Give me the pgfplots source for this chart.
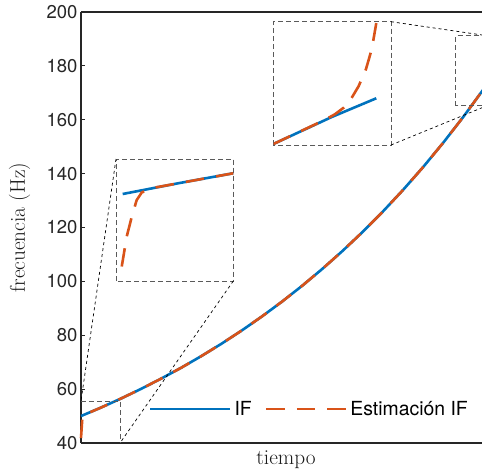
\documentclass[border=0pt]{standalone}
\usepackage{fontspec}
\usepackage{pgfplots}
\pgfplotsset{compat=1.18}
\usetikzlibrary{calc}
\newfontfamily\helv{TeX Gyre Heros}
\newcommand\ticfont{\helv\fontsize{18.5}{22}\selectfont}
\newcommand\legfont{\helv\fontsize{19.4}{23}\selectfont}
\newcommand\labfont{\fontsize{21.3}{25}\selectfont}
\definecolor{ifblue}{RGB}{0,114,189}
\definecolor{iforange}{RGB}{217,83,25}
\definecolor{axisgray}{RGB}{38,38,38}
\definecolor{boxgray}{RGB}{90,90,90}
\tikzset{
  boxst/.style={boxgray, line width=0.9pt, dash pattern=on 5pt off 3pt},
  conn/.style={black, line width=0.7pt, dash pattern=on 3pt off 3pt},
}
\begin{document}
\begin{tikzpicture}
\begin{axis}[
  name=main,
  scale only axis,
  width=402pt, height=431pt,
  xmin=0, xmax=1, ymin=40, ymax=200,
  xtick=\empty,
  ytick={40,60,...,200},
  tick align=inside,
  major tick length=4pt,
  axis x line*=box, axis y line*=left,
  axis line style={line width=1.2pt, color=axisgray},
  tick style={line width=1pt, color=axisgray},
  yticklabel style={font=\ticfont, text=axisgray},
  /pgf/number format/assume math mode=true,
  xlabel={tiempo}, ylabel={frecuencia (Hz)},
  label style={font=\labfont, text=black!90},
  xlabel style={at={(axis description cs:0.51,-0.051)}, anchor=base},
  ylabel style={at={(axis description cs:-0.153,0.5)}, anchor=center},
  clip=false,
  legend style={draw=none, fill=none, at={(axis description cs:0.169,0.079)}, anchor=west,
    font=\legfont, inner sep=0pt, outer sep=0pt, nodes={inner sep=0pt, text=black},
    /tikz/every odd column/.append style={column sep=3pt},
    /tikz/every even column/.append style={column sep=13pt}},
  legend columns=2,
  legend cell align=left,
  legend image code/.code={\draw[#1] (0pt,0pt) -- (80pt,0pt);},
]
\addplot[ifblue, line width=2.6pt] coordinates {
(0,50.00) (0.05,53.17) (0.10,56.54) (0.15,60.13) (0.20,63.95) (0.25,68.00)
(0.30,72.32) (0.35,76.90) (0.40,81.78) (0.45,86.97) (0.50,92.48) (0.55,98.35)
(0.60,104.59) (0.65,111.22) (0.70,118.28) (0.75,125.78) (0.80,133.76)
(0.85,142.24) (0.90,151.27) (0.95,160.86) (1.00,171.06)};
\addplot[iforange, line width=2.6pt, dash pattern=on 18.5pt off 12.2pt] coordinates {
(0,41.8) (0.0035,49.6) (0.008,50.5) (0.02,51.25) (0.05,53.17) (0.10,56.54) (0.15,60.13) (0.20,63.95) (0.25,68.00)
(0.30,72.32) (0.35,76.90) (0.40,81.78) (0.45,86.97) (0.50,92.48) (0.55,98.35)
(0.60,104.59) (0.65,111.22) (0.70,118.28) (0.75,125.78) (0.80,133.76)
(0.85,142.24) (0.90,151.27) (0.95,160.86) (1.00,171.06)};
\legend{IF,Estimación IF}
\coordinate (O) at (rel axis cs:0,0);
\end{axis}

% zoom boxes in the main axis
\draw[boxst] ($(O)+(0pt,42pt)$) -- ($(O)+(39pt,42pt)$) -- ($(O)+(39pt,0pt)$);
\draw[boxst] ($(O)+(374.7pt,337.3pt)$) rectangle ($(O)+(406pt,407.3pt)$);

% left inset
\begin{axis}[
  name=insL, at={($(O)+(35pt,162pt)$)}, anchor=south west,
  scale only axis, width=117.3pt, height=122pt,
  xmin=0, xmax=0.1, ymin=40, ymax=56,
  xtick=\empty, ytick=\empty,
  axis line style={boxgray, line width=0.9pt, dash pattern=on 5pt off 3pt},
]
\addplot[ifblue, line width=2.6pt] coordinates {(0.0057,51.41) (0.0528,52.81) (0.1,54.13)};
\addplot[iforange, line width=2.6pt, dash pattern=on 18.5pt off 12.2pt] coordinates {
(0.0049,41.9) (0.0091,45.8) (0.0134,48.4) (0.0176,50.6) (0.0219,51.6) (0.0275,52.0) (0.0347,52.3) (0.1,54.13)};
\end{axis}

% top-right inset
\begin{axis}[
  name=insR, at={($(O)+(192.3pt,298pt)$)}, anchor=south west,
  scale only axis, width=117.7pt, height=123.3pt,
  xmin=0.93, xmax=1.01, ymin=165, ymax=191,
  xtick=\empty, ytick=\empty,
  axis line style={boxgray, line width=0.9pt, dash pattern=on 5pt off 3pt},
]
\addplot[ifblue, line width=2.6pt] coordinates {(0.93,165.2) (0.9697,170.9) (1.0,174.85)};
\addplot[iforange, line width=2.6pt, dash pattern=on 18.5pt off 12.2pt] coordinates {
(0.93,165.2) (0.9650,170.3) (0.9720,171.5) (0.9780,172.9) (0.9830,174.8) (0.9880,177.4) (0.9930,181.0) (0.9970,185.3) (1.0,190.7)};
\end{axis}

\draw[conn] (insL.north west) -- ($(O)+(0pt,42pt)$);
\draw[conn] (insL.south east) -- ($(O)+(39pt,0pt)$);
\draw[conn] (insR.north east) -- ($(O)+(406pt,407.3pt)$);
\draw[conn] (insR.south east) -- ($(O)+(406pt,337.3pt)$);

\pgfresetboundingbox
\path[use as bounding box] (O) ++(-81pt,-32pt) rectangle ++(482pt,475pt);
\end{tikzpicture}
\end{document}
